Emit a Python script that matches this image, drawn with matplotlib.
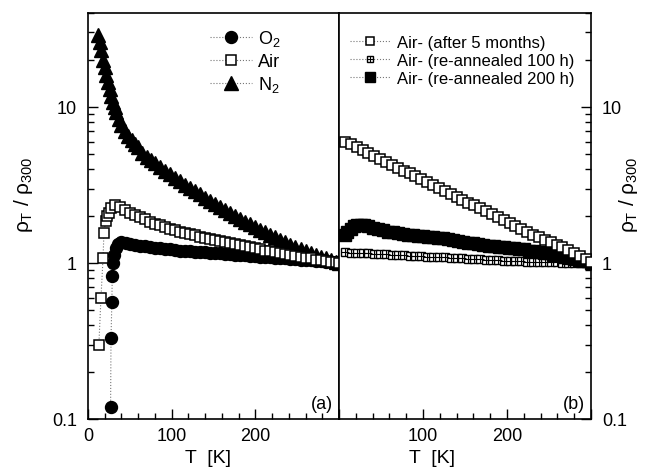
import matplotlib
matplotlib.use("Agg")
import matplotlib.pyplot as plt
from matplotlib.ticker import FixedLocator, FixedFormatter, LogLocator, NullFormatter, MultipleLocator
from matplotlib.legend_handler import HandlerTuple

plt.rcParams['font.family'] = ['Liberation Sans', 'DejaVu Sans']
plt.rcParams['mathtext.fontset'] = 'custom'
plt.rcParams['mathtext.rm'] = 'Liberation Sans'
plt.rcParams['mathtext.it'] = 'Liberation Sans'
plt.rcParams['mathtext.bf'] = 'Liberation Sans:bold'

# ---------------- data: panel (a) ----------------
T_o2 = [27, 27.5, 28.5, 29, 30, 31, 33, 36, 40, 45, 50, 56, 62, 68, 74, 80, 86, 92, 98, 104,
        110, 116, 122, 128, 134, 140, 146, 152, 158, 164, 170, 176, 182, 188, 194, 200, 206,
        212, 218, 224, 230, 236, 242, 248, 254, 260, 266, 272, 278, 284, 290, 296, 300]
rho_o2 = [0.12, 0.33, 0.56, 0.83, 1.0, 1.12, 1.24, 1.32, 1.36, 1.35, 1.33, 1.31, 1.29, 1.28,
          1.26, 1.25, 1.24, 1.23, 1.22, 1.21, 1.20, 1.19, 1.19, 1.18, 1.17, 1.17, 1.16, 1.15,
          1.15, 1.14, 1.14, 1.13, 1.13, 1.12, 1.11, 1.11, 1.10, 1.10, 1.09, 1.08, 1.08, 1.07,
          1.06, 1.06, 1.05, 1.05, 1.04, 1.03, 1.03, 1.02, 1.01, 1.01, 1.00]

T_air = [13, 15.5, 18, 19, 21, 23, 25, 28, 32, 38, 44, 50, 56, 62, 68, 74, 80, 86, 92, 98,
         104, 110, 116, 122, 128, 134, 140, 146, 152, 158, 164, 170, 176, 182, 188, 194, 200,
         206, 212, 218, 224, 230, 236, 242, 248, 254, 260, 266, 272, 278, 284, 290, 296, 300]
rho_air = [0.30, 0.60, 1.08, 1.55, 1.85, 2.0, 2.1, 2.25, 2.35, 2.28, 2.18, 2.10, 2.02, 1.96,
           1.90, 1.84, 1.79, 1.74, 1.70, 1.66, 1.62, 1.59, 1.56, 1.53, 1.50, 1.47, 1.45, 1.42,
           1.40, 1.38, 1.36, 1.34, 1.32, 1.30, 1.28, 1.26, 1.24, 1.22, 1.20, 1.19, 1.17, 1.15,
           1.14, 1.12, 1.11, 1.09, 1.08, 1.07, 1.05, 1.04, 1.03, 1.02, 1.01, 1.00]

T_n2 = [12, 14, 16, 18, 20, 22, 24, 26, 28, 30, 32, 34, 37, 40, 44, 48, 52, 56, 60, 65, 70,
        75, 80, 86, 92, 98, 104, 110, 116, 122, 128, 134, 140, 146, 152, 158, 164, 170, 176,
        182, 188, 194, 200, 206, 212, 218, 224, 230, 236, 242, 248, 254, 260, 266, 272, 278,
        284, 290, 296, 300]
rho_n2 = [29, 26, 23, 20, 18, 16, 14.5, 13, 11.8, 10.8, 10.0, 9.3, 8.4, 7.7, 7.0, 6.5, 6.1,
          5.8, 5.5, 5.1, 4.8, 4.6, 4.4, 4.15, 3.9, 3.7, 3.5, 3.33, 3.17, 3.02, 2.88, 2.75, 2.62,
          2.50, 2.39, 2.28, 2.18, 2.09, 2.00, 1.92, 1.84, 1.77, 1.70, 1.63, 1.57, 1.51, 1.46,
          1.41, 1.36, 1.31, 1.27, 1.23, 1.19, 1.16, 1.13, 1.10, 1.07, 1.04, 1.02, 1.0]

# ---------------- data: panel (b) ----------------
T_5m = [7, 14, 21, 28, 35, 42, 49, 56, 63, 70, 77, 84, 91, 98, 105, 112, 119, 126, 133, 140,
        147, 154, 161, 168, 175, 182, 189, 196, 203, 210, 217, 224, 231, 238, 245, 252, 259,
        266, 273, 280, 287, 294, 300]
rho_5m = [6.00, 5.75, 5.51, 5.28, 5.06, 4.84, 4.64, 4.45, 4.26, 4.08, 3.91, 3.75, 3.59, 3.44,
          3.29, 3.15, 3.02, 2.90, 2.77, 2.66, 2.55, 2.44, 2.34, 2.24, 2.15, 2.06, 1.97, 1.89,
          1.81, 1.73, 1.66, 1.59, 1.52, 1.46, 1.40, 1.36, 1.31, 1.26, 1.21, 1.16, 1.11, 1.06,
          1.02]

T_100h = [7, 14, 21, 28, 35, 42, 49, 56, 63, 70, 77, 84, 91, 98, 105, 112, 119, 126, 133, 140,
          147, 154, 161, 168, 175, 182, 189, 196, 203, 210, 217, 224, 231, 238, 245, 252, 259,
          266, 273, 280, 287, 294, 300]
rho_100h = [1.17, 1.165, 1.16, 1.155, 1.15, 1.145, 1.14, 1.135, 1.13, 1.125, 1.12, 1.115, 1.11,
            1.105, 1.10, 1.095, 1.09, 1.085, 1.08, 1.075, 1.07, 1.065, 1.06, 1.055, 1.05, 1.045,
            1.04, 1.035, 1.03, 1.027, 1.024, 1.021, 1.018, 1.015, 1.012, 1.01, 1.008, 1.006,
            1.004, 1.003, 1.002, 1.001, 1.0]

T_200h = [7, 10, 14, 18, 22, 26, 30, 35, 40, 46, 52, 58, 64, 70, 76, 82, 88, 94, 100, 106, 112,
          118, 124, 130, 136, 142, 148, 154, 160, 166, 172, 178, 184, 190, 196, 202, 208, 214,
          220, 226, 232, 238, 244, 250, 256, 262, 268, 274, 280, 286, 292, 300]
rho_200h = [1.50, 1.58, 1.66, 1.72, 1.75, 1.76, 1.75, 1.72, 1.68, 1.65, 1.62, 1.59, 1.57, 1.55,
            1.53, 1.52, 1.50, 1.49, 1.48, 1.47, 1.46, 1.45, 1.44, 1.42, 1.40, 1.39, 1.37, 1.35,
            1.34, 1.32, 1.30, 1.29, 1.28, 1.27, 1.26, 1.25, 1.24, 1.23, 1.22, 1.20, 1.19, 1.18,
            1.16, 1.15, 1.13, 1.12, 1.10, 1.08, 1.06, 1.05, 1.03, 1.0]

y_ticks = [0.1, 1, 10]
y_ticklabels = ['0.1', '1', '10']
x_ticks = [0, 100, 200, 300]
x_labels_a = ['0', '100', '200', '']
x_labels_b = ['', '100', '200', '']

W, H = 649, 477
fig = plt.figure(figsize=(W / 100, H / 100), dpi=100)
axL = fig.add_axes([88 / W, 57 / H, 251 / W, 406 / H])
axR = fig.add_axes([339 / W, 57 / H, 252 / W, 406 / H])

line_kw = dict(color='#777777', linestyle=':', linewidth=0.8)

hO2, = axL.plot(T_o2, rho_o2, marker='o', ms=8.6, mfc='black', mec='black', zorder=2, **line_kw)
hN2, = axL.plot(T_n2, rho_n2, marker='^', ms=10, mfc='black', mec='black', zorder=2, **line_kw)
hAir, = axL.plot(T_air, rho_air, marker='s', ms=6.5, mfc='white', mec='black', mew=1.1, zorder=3, **line_kw)

h5, = axR.plot(T_5m, rho_5m, marker='s', ms=6.5, mfc='white', mec='black', mew=1.1, zorder=4, **line_kw)
h100a, = axR.plot(T_100h, rho_100h, marker='s', ms=6, mfc='white', mec='black', mew=1.0, zorder=2, **line_kw)
h100b, = axR.plot(T_100h, rho_100h, marker='+', ms=6, mec='black', mew=0.8, linestyle='none', zorder=2)
h200, = axR.plot(T_200h, rho_200h, marker='s', ms=9, mfc='black', mec='black', zorder=3, **line_kw)

for ax in (axL, axR):
    ax.set_yscale('log')
    ax.set_ylim(0.1, 40)
    ax.set_xlim(0, 300)
    ax.yaxis.set_major_locator(FixedLocator(y_ticks))
    ax.yaxis.set_major_formatter(FixedFormatter(y_ticklabels))
    ax.yaxis.set_minor_locator(LogLocator(base=10, subs=[2, 3, 4, 5, 6, 7, 8, 9]))
    ax.yaxis.set_minor_formatter(NullFormatter())
    ax.xaxis.set_major_locator(FixedLocator(x_ticks))
    ax.xaxis.set_minor_locator(MultipleLocator(20))
    for s in ax.spines.values():
        s.set_linewidth(1.2)
    ax.tick_params(which='both', direction='in', top=False, labelsize=13, width=1.0)
    ax.tick_params(which='major', length=7)
    ax.tick_params(which='minor', length=4)
    ax.tick_params(axis='x', pad=6)

axL.xaxis.set_major_formatter(FixedFormatter(x_labels_a))
axR.xaxis.set_major_formatter(FixedFormatter(x_labels_b))
axL.tick_params(axis='y', which='both', left=True, right=False, pad=8)
axR.tick_params(axis='y', which='both', left=False, right=True, labelleft=False, labelright=True, pad=8)

ylab = r'$\rho_{\rm T}$ / $\rho_{300}$'
axL.set_ylabel(ylab, fontsize=15)
axL.yaxis.set_label_coords(-0.21, 0.555)
axR.yaxis.set_label_position('right')
axR.set_ylabel(ylab, fontsize=15)
axR.yaxis.set_label_coords(1.105, 0.555)

axL.set_xlabel('T  [K]', fontsize=14)
axR.set_xlabel('T  [K]', fontsize=14)
axL.xaxis.set_label_coords(0.478, -0.074)
axR.xaxis.set_label_coords(0.369, -0.074)

axL.text(0.975, 0.037, '(a)', transform=axL.transAxes, ha='right', va='center', fontsize=13)
axR.text(0.975, 0.037, '(b)', transform=axR.transAxes, ha='right', va='center', fontsize=13)

legL = axL.legend([hO2, hAir, hN2], ['O$_2$', 'Air', 'N$_2$'],
                  loc='upper left', bbox_to_anchor=(0.486, 0.962), frameon=False, fontsize=13,
                  handlelength=2.3, handletextpad=0.35, labelspacing=0.25, borderpad=0, borderaxespad=0)
legR = axR.legend([h5, (h100a, h100b), h200],
                  ['Air- (after 5 months)', 'Air- (re-annealed 100 h)', 'Air- (re-annealed 200 h)'],
                  handler_map={tuple: HandlerTuple(ndivide=1)},
                  loc='upper left', bbox_to_anchor=(0.044, 0.947), frameon=False, fontsize=12,
                  handlelength=2.4, handletextpad=0.4, labelspacing=0.2, borderpad=0, borderaxespad=0,
                  markerscale=0.8)

fig.savefig('out.png', dpi=100)
